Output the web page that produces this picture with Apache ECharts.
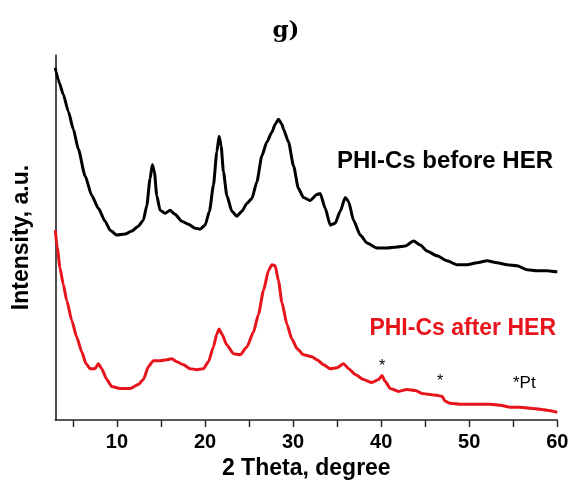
<!DOCTYPE html>
<html>
<head>
<meta charset="utf-8">
<script src="https://cdn.jsdelivr.net/npm/echarts@6/dist/echarts.min.js"></script>
<style>html,body{margin:0;padding:0;background:#fff}#c{width:572px;height:485px}</style>
</head>
<body>
<div id="c"></div>
<script>
// 2 Theta (degree) and intensity (a.u.)
var thetaBefore = [3.00,3.08,3.34,3.45,3.91,4.48,5.05,5.61,6.38,7.14,7.89,8.65,9.22,9.98,10.93,11.68,12.43,13.00,13.39,13.76,14.02,14.25,14.52,14.90,15.47,16.03,16.60,17.36,18.11,18.88,19.44,20.01,20.50,20.95,21.34,21.60,21.83,22.09,22.48,23.05,23.61,24.18,24.75,25.32,25.89,26.45,27.02,27.59,27.97,28.34,28.73,28.91,29.48,30.05,30.61,31.18,31.94,32.70,33.08,33.65,34.22,34.78,35.35,35.92,36.30,36.86,37.63,38.39,39.52,40.66,41.80,42.74,43.68,44.44,45.20,46.34,47.48,48.61,49.75,50.89,52.02,53.16,54.30,55.43,56.57,57.70,58.84,59.90,60.00];
var intensityBefore = [356,352,344,341,329,312,294,274,247,227,214,201,192,187,188,191,196,202,217,244,258,251,227,212,209,212,208,201,198,194,193,197,211,237,271,287,277,251,227,211,206,211,219,224,241,267,281,291,299,304,299,294,281,257,234,225,222,228,229,214,197,199,211,225,221,202,187,179,174,174,175,176,181,177,171,166,161,157,157,159,161,159,157,156,152,151,151,150,150];

var thetaAfter = [3.00,3.23,3.53,3.91,4.30,4.86,5.43,6.00,6.49,6.94,7.51,7.89,8.27,8.84,9.41,10.35,11.49,12.43,13.00,13.57,14.14,14.90,15.66,16.23,16.80,17.55,18.31,19.07,19.82,20.39,20.95,21.34,21.60,21.91,22.48,23.23,23.99,24.75,25.50,26.07,26.64,27.20,27.59,27.97,28.34,28.73,29.30,29.86,30.47,31.18,32.14,32.70,33.45,34.22,34.98,35.73,36.30,37.06,38.00,38.95,39.70,40.09,40.47,41.03,41.98,42.93,43.88,44.64,45.39,46.34,46.91,47.28,47.85,48.99,50.13,51.26,52.40,53.53,54.67,55.81,56.94,58.08,58.84,60.00];
var intensityAfter = [192,174,154,137,121,101,84,69,57,52,52,57,52,41,34,32,32,36,41,54,60,60,61,62,59,56,52,51,52,59,74,87,92,87,76,67,66,74,89,107,131,151,157,156,141,119,97,82,72,66,64,61,56,52,53,57,52,46,41,38,41,45,39,32,29,31,30,27,26,25,24,19,17,16,16,16,16,15,13,13,12,11,10,8];

var tickValues = [5,10,15,20,25,30,35,40,45,50,55,60];
var labelValues = [10,20,30,40,50,60];
var seriesNames = ['PHI-Cs before HER','PHI-Cs after HER'];
var pointNotes = ['*','*','*Pt'];

function pairs(xs, ys){ return xs.map(function(x,i){ return [x, ys[i]]; }); }

var chart = echarts.init(document.getElementById('c'), null, {renderer:'canvas'});
chart.setOption({
  animation:false,
  backgroundColor:'#fff',
  title:{text:'g)', left:'center', top:15, textStyle:{fontFamily:'DejaVu Serif', fontWeight:'bold', fontSize:23, color:'#000'}},
  grid:{left:55.3, right:14.7, top:55, bottom:61, containLabel:false},
  xAxis:{
    type:'value', min:3, max:60,
    name:'2 Theta, degree', nameLocation:'middle', nameGap:34,
    nameTextStyle:{fontFamily:'Liberation Sans', fontWeight:'bold', fontSize:23, color:'#000'},
    axisLine:{show:true, lineStyle:{color:'#222', width:1.6}},
    axisTick:{show:true, inside:false, length:7, lineStyle:{color:'#222', width:1.4}, customValues:tickValues},
    axisLabel:{show:true, margin:12, fontFamily:'Liberation Sans', fontWeight:'bold', fontSize:20, color:'#000', customValues:labelValues},
    splitLine:{show:false}
  },
  yAxis:{
    type:'value', min:0, max:369,
    name:'Intensity, a.u.', nameLocation:'middle', nameGap:22,
    nameTextStyle:{fontFamily:'Liberation Sans', fontWeight:'bold', fontSize:23, color:'#000'},
    axisLine:{show:true, lineStyle:{color:'#222', width:1.6}},
    axisTick:{show:false}, axisLabel:{show:false}, splitLine:{show:false}
  },
  series:[
    {name:seriesNames[0], type:'line', data:pairs(thetaBefore,intensityBefore), showSymbol:false, smooth:0.2, smoothMonotone:'x',
     lineStyle:{color:'#000', width:3}, z:3},
    {name:seriesNames[1], type:'line', data:pairs(thetaAfter,intensityAfter), showSymbol:false, smooth:0.2, smoothMonotone:'x',
     lineStyle:{color:'#e8141c', width:3}, z:2}
  ],
  graphic:[
    {type:'text', x:553, y:161.7, style:{text:seriesNames[0], textAlign:'right', textVerticalAlign:'middle', fontFamily:'Liberation Sans', fontWeight:'bold', fontSize:24, fill:'#000'}},
    {type:'text', x:556, y:328.3, style:{text:seriesNames[1], textAlign:'right', textVerticalAlign:'middle', fontFamily:'Liberation Sans', fontWeight:'bold', fontSize:23, fill:'#e8141c'}},
    {type:'text', x:382, y:367, style:{text:pointNotes[0], textAlign:'center', textVerticalAlign:'middle', fontFamily:'Liberation Sans', fontSize:16, fill:'#000'}},
    {type:'text', x:440, y:381.5, style:{text:pointNotes[1], textAlign:'center', textVerticalAlign:'middle', fontFamily:'Liberation Sans', fontSize:16, fill:'#000'}},
    {type:'text', x:513, y:383.3, style:{text:pointNotes[2], textAlign:'left', textVerticalAlign:'middle', fontFamily:'Liberation Sans', fontSize:17, fill:'#000'}}
  ]
});
</script>
</body>
</html>
